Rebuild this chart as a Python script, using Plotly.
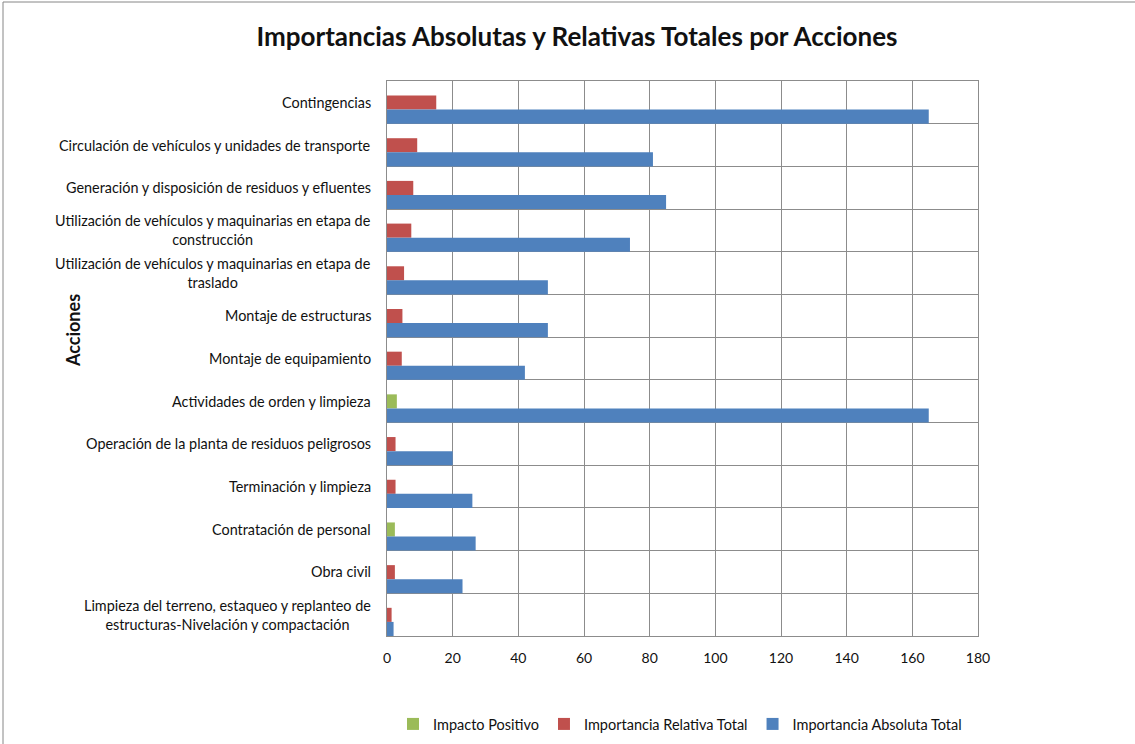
import plotly.graph_objects as go

# Actions, listed from top to bottom of the chart
acciones = [
    "Contingencias",
    "Circulación de vehículos y unidades de transporte",
    "Generación y disposición de residuos y efluentes",
    "Utilización de vehículos y maquinarias en etapa de<br>construcción",
    "Utilización de vehículos y maquinarias en etapa de<br>traslado",
    "Montaje de estructuras",
    "Montaje de equipamiento",
    "Actividades de orden y limpieza",
    "Operación de la planta de residuos peligrosos",
    "Terminación y limpieza",
    "Contratación de personal",
    "Obra civil",
    "Limpieza del terreno, estaqueo y replanteo de<br>estructuras-Nivelación y compactación",
]

impacto_positivo = [None, None, None, None, None, None, None, 3.0, None, None, 2.4, None, None]
importancia_relativa = [15, 9.2, 8, 7.4, 5.2, 4.7, 4.5, None, 2.6, 2.6, None, 2.4, 1.4]
importancia_absoluta = [165, 81, 85, 74, 49, 49, 42, 165, 20, 26, 27, 23, 2]

x_ticks = list(range(0, 181, 20))

FONT = "Lato"
GRID = "#8c8c8c"
TXT = "#111111"
W = 0.33

fig = go.Figure()
fig.add_trace(go.Bar(
    name="Impacto Positivo", y=acciones, x=impacto_positivo, orientation="h",
    marker=dict(color="#9BBB59", line=dict(width=0)), width=W, offset=0.5 - 2 * W,
))
fig.add_trace(go.Bar(
    name="Importancia Relativa Total", y=acciones, x=importancia_relativa, orientation="h",
    marker=dict(color="#C0504D", line=dict(width=0)), width=W, offset=0.5 - 2 * W,
))
fig.add_trace(go.Bar(
    name="Importancia Absoluta Total", y=acciones, x=importancia_absoluta, orientation="h",
    marker=dict(color="#4F81BD", line=dict(width=0)), width=W, offset=0.5 - W,
))

# Category labels, centred line by line and right-anchored next to the axis
for a in acciones:
    fig.add_annotation(
        x=-0.0237, xref="paper", y=a, yref="y", text=a, showarrow=False,
        xanchor="right", yanchor="middle", align="center",
        font=dict(family=FONT, size=14.4, color=TXT),
    )

L, R, T, B = 387, 157, 81, 108
PW, PH = 1135 - L - R, 744 - T - B

# Outer chart border
fig.add_shape(
    type="rect", xref="paper", yref="paper",
    x0=(3 - L) / PW, x1=(1140 - L) / PW, y0=-(750 - (T + PH)) / PH, y1=(T + PH - 2) / PH,
    line=dict(color="#868686", width=1), fillcolor="rgba(0,0,0,0)", layer="below",
)

fig.update_layout(
    width=1135, height=744,
    margin=dict(l=L, r=R, t=T, b=B, autoexpand=False),
    paper_bgcolor="white", plot_bgcolor="white",
    barmode="overlay",
    showlegend=True,
    font=dict(family=FONT, size=13, color=TXT),
    title=dict(
        text="<b>Importancias Absolutas y Relativas Totales por Acciones</b>",
        x=577 / 1135, xanchor="center", y=1 - 37 / 744, yanchor="middle",
        font=dict(family=FONT, size=26, color=TXT),
    ),
    legend=dict(
        orientation="h", x=(393 - L) / PW, xanchor="left", y=-(724 - (T + PH)) / PH, yanchor="middle",
        font=dict(family=FONT, size=14.5, color=TXT), itemwidth=30, traceorder="normal",
    ),
    xaxis=dict(
        range=[0, 180], tickvals=x_ticks, ticks="", showgrid=True, gridcolor=GRID, gridwidth=1,
        showline=True, linecolor=GRID, linewidth=1, mirror=True, zeroline=False,
        tickfont=dict(family=FONT, size=14, color=TXT), ticklabelstandoff=9, fixedrange=True,
    ),
    yaxis=dict(
        type="category", range=[len(acciones) - 0.5, -0.5], tickson="boundaries",
        showticklabels=False, ticks="", showgrid=True, gridcolor=GRID, gridwidth=1,
        showline=True, linecolor=GRID, linewidth=1, mirror=True,
        fixedrange=True,
    ),
)

# Vertical axis title
fig.add_annotation(
    x=(73 - L) / PW, xref="paper", y=(T + PH - 331) / PH, yref="paper", text="<b>Acciones</b>",
    textangle=-90, showarrow=False, xanchor="center", yanchor="middle",
    font=dict(family=FONT, size=18, color=TXT),
)

fig.write_html("out.html")
